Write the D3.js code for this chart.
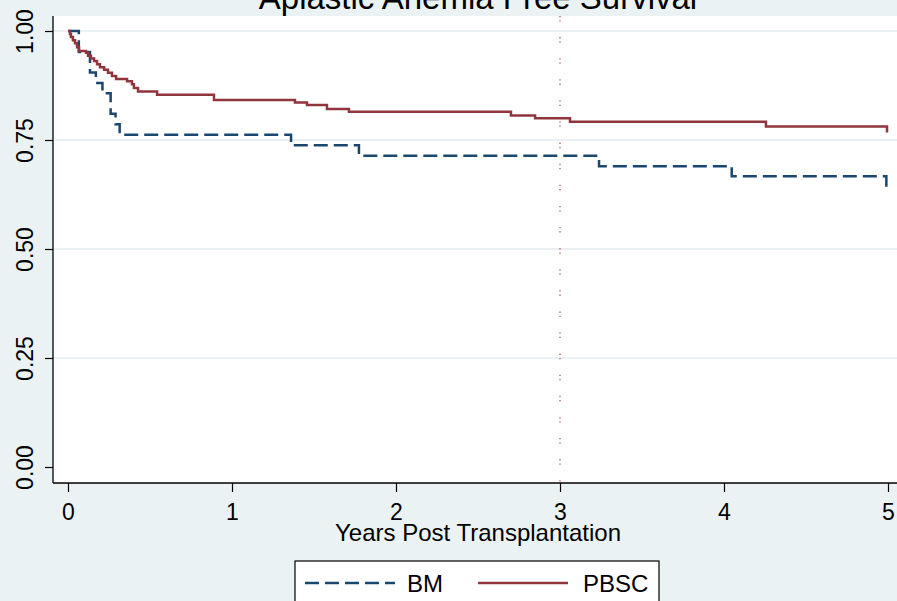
<!DOCTYPE html>
<html>
<head>
<meta charset="utf-8">
<script src="https://cdn.jsdelivr.net/npm/d3@7"></script>
<style>
  html, body { margin: 0; padding: 0; background: #eaf2f3; }
  svg { display: block; }
  text { font-family: "Liberation Sans", Arial, sans-serif; fill: #000; }
</style>
</head>
<body>
<svg id="chart" width="897" height="601"></svg>
<script>
// Kaplan-Meier estimates, years post transplantation
const bmTime  = [0, 0.066, 0.134, 0.17, 0.21, 0.26, 0.29, 0.315, 1.36, 1.774, 3.238, 4.047, 4.99];
const bmSurv  = [1, 0.952, 0.905, 0.881, 0.857, 0.810, 0.786, 0.762, 0.738, 0.714, 0.690, 0.667, 0.643];

const pbscTime = [0, 0.012, 0.018, 0.030, 0.043, 0.055, 0.067, 0.110, 0.122, 0.140, 0.159, 0.177,
                  0.195, 0.220, 0.244, 0.268, 0.293, 0.360, 0.390, 0.402, 0.427, 0.543, 0.890,
                  1.384, 1.457, 1.579, 1.713, 2.701, 2.848, 3.061, 4.256, 4.994];
const pbscSurv = [1, 0.993, 0.986, 0.979, 0.972, 0.963, 0.954, 0.950, 0.943, 0.937, 0.931, 0.924,
                  0.917, 0.911, 0.904, 0.897, 0.890, 0.885, 0.878, 0.869, 0.861, 0.854, 0.842,
                  0.836, 0.830, 0.821, 0.815, 0.806, 0.800, 0.792, 0.781, 0.767];

const xTicks = [0, 1, 2, 3, 4, 5];
const yTicks = [0, 0.25, 0.5, 0.75, 1];
const yGrid = [0.25, 0.5, 0.75, 1];
const refYear = 3;

const seriesNames = ["BM", "PBSC"];
const titleText = "Aplastic Anemia Free Survival";
const xTitle = "Years Post Transplantation";

const colBM = "#1a476f", colPB = "#90353b";

const svg = d3.select("#chart");

// plot region
const plot = { left: 53, right: 903, top: 16, bottom: 483 };
const x = d3.scaleLinear().domain([0, 5]).range([68, 888]);
const y = d3.scaleLinear().domain([0, 1]).range([467, 31]);

svg.append("rect")
  .attr("x", plot.left).attr("y", plot.top)
  .attr("width", plot.right - plot.left).attr("height", plot.bottom - plot.top)
  .attr("fill", "#ffffff");

// horizontal grid lines
svg.append("g").selectAll("line").data(yGrid).join("line")
  .attr("x1", plot.left).attr("x2", plot.right)
  .attr("y1", d => y(d)).attr("y2", d => y(d))
  .attr("stroke", "#e4ecee").attr("stroke-width", 1.6);

// reference line at 3 years
svg.append("line")
  .attr("x1", x(refYear)).attr("x2", x(refYear))
  .attr("y1", plot.top).attr("y2", plot.bottom)
  .attr("stroke", "#a8455a").attr("stroke-width", 1.2)
  .attr("stroke-dasharray", "1.3,3,1.3,15.5");

// survival curves
const step = d3.line().curve(d3.curveStepAfter).x(d => x(d[0])).y(d => y(d[1]));
svg.append("path")
  .datum(bmTime.map((t, i) => [t, bmSurv[i]]))
  .attr("d", step).attr("fill", "none")
  .attr("stroke", colBM).attr("stroke-width", 2.5)
  .attr("stroke-dasharray", "14,6");
svg.append("path")
  .datum(pbscTime.map((t, i) => [t, pbscSurv[i]]))
  .attr("d", step).attr("fill", "none")
  .attr("stroke", colPB).attr("stroke-width", 2.5);

// axes
const yAxis = svg.append("g").attr("transform", `translate(${plot.left},0)`)
  .call(d3.axisLeft(y).tickValues(yTicks).tickSize(8).tickFormat(d3.format(".2f")));
yAxis.select(".domain").attr("d", `M0,${plot.top}V${plot.bottom}`).attr("stroke", "#000").attr("stroke-width", 1.3);
yAxis.selectAll(".tick line").attr("stroke", "#000").attr("stroke-width", 1.2);
yAxis.selectAll(".tick text")
  .attr("x", null).attr("dy", null)
  .attr("transform", "translate(-20,0) rotate(-90)")
  .attr("text-anchor", "middle")
  .style("font-size", "23px")
  .style("font-family", "'Liberation Sans', Arial, sans-serif")
  .attr("fill", "#000");

const xAxis = svg.append("g").attr("transform", `translate(0,${plot.bottom})`)
  .call(d3.axisBottom(x).tickValues(xTicks).tickSize(9).tickFormat(d3.format("d")));
xAxis.select(".domain").attr("d", `M${plot.left},0H${plot.right}`).attr("stroke", "#000").attr("stroke-width", 1.3);
xAxis.selectAll(".tick line").attr("stroke", "#000").attr("stroke-width", 1.2);
xAxis.selectAll(".tick text")
  .attr("y", 37).attr("dy", null)
  .style("font-size", "23px")
  .style("font-family", "'Liberation Sans', Arial, sans-serif")
  .attr("fill", "#000");

// titles
svg.append("text").attr("x", 478).attr("y", 541)
  .attr("text-anchor", "middle").style("font-size", "24px").text(xTitle);
svg.append("text").attr("x", 478).attr("y", 9)
  .attr("text-anchor", "middle").style("font-size", "33px").attr("fill", "#1e1e1e").text(titleText);

// legend
const lg = svg.append("g");
lg.append("rect").attr("x", 295).attr("y", 561).attr("width", 364).attr("height", 60)
  .attr("fill", "#fff").attr("stroke", "#000").attr("stroke-width", 1.2);
const legendItems = [
  { name: seriesNames[0], color: colBM, dash: "14,6", x0: 305, x1: 395, tx: 407 },
  { name: seriesNames[1], color: colPB, dash: null, x0: 478, x1: 568, tx: 583 }
];
legendItems.forEach(it => {
  lg.append("line").attr("x1", it.x0).attr("x2", it.x1).attr("y1", 583).attr("y2", 583)
    .attr("stroke", it.color).attr("stroke-width", 2.5)
    .attr("stroke-dasharray", it.dash);
  lg.append("text").attr("x", it.tx).attr("y", 592).style("font-size", "24px").text(it.name);
});
</script>
</body>
</html>
